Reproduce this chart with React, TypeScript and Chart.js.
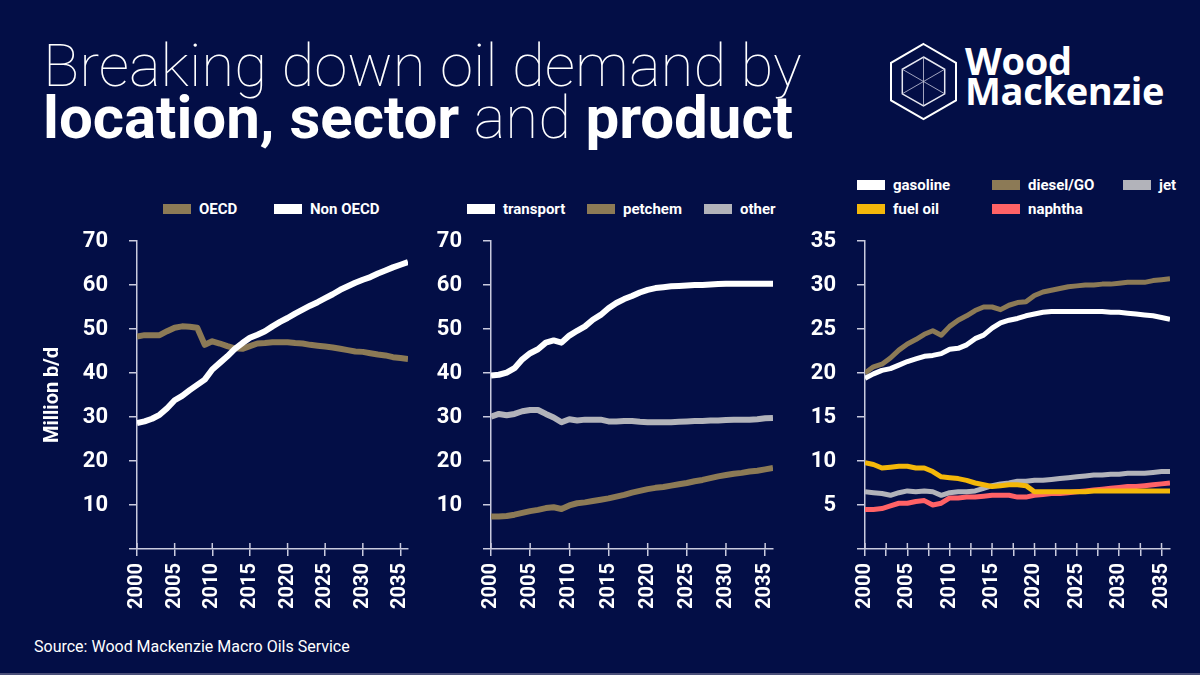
import React, { useEffect, useRef } from 'react';
import { Chart, registerables } from 'chart.js';

Chart.register(...registerables);

// ---------- DATA ----------
const years = [
  2000, 2001, 2002, 2003, 2004, 2005, 2006, 2007, 2008, 2009,
  2010, 2011, 2012, 2013, 2014, 2015, 2016, 2017, 2018, 2019,
  2020, 2021, 2022, 2023, 2024, 2025, 2026, 2027, 2028, 2029,
  2030, 2031, 2032, 2033, 2034, 2035, 2036,
];

// Location
const regionLabels = ['OECD', 'Non OECD'];
const oecd = [
  48.3, 48.6, 48.6, 48.6, 49.5, 50.3, 50.6, 50.5, 50.3, 46.4,
  47.2, 46.7, 46.1, 45.6, 45.5, 46.1, 46.7, 46.8, 47.0, 47.0,
  47.0, 46.8, 46.7, 46.4, 46.2, 46.0, 45.8, 45.5, 45.2, 44.9,
  44.8, 44.5, 44.2, 44.0, 43.6, 43.4, 43.2,
];
const nonOecd = [
  28.6, 29.0, 29.6, 30.5, 32.0, 33.8, 34.8, 36.1, 37.3, 38.5,
  40.8, 42.3, 43.8, 45.5, 46.8, 48.0, 48.7, 49.5, 50.6, 51.6,
  52.5, 53.5, 54.4, 55.3, 56.1, 57.0, 57.9, 58.9, 59.7, 60.5,
  61.2, 61.8, 62.6, 63.3, 64.0, 64.6, 65.2,
];

// Sector
const sectorLabels = ['transport', 'petchem', 'other'];
const transport = [
  39.4, 39.6, 40.1, 41.1, 43.1, 44.5, 45.4, 46.9, 47.4, 46.9,
  48.5, 49.6, 50.6, 52.1, 53.2, 54.7, 55.9, 56.8, 57.5, 58.3,
  58.9, 59.3, 59.5, 59.7, 59.8, 59.9, 60.0, 60.0, 60.1, 60.2,
  60.3, 60.3, 60.3, 60.3, 60.3, 60.3, 60.3,
];
const petchem = [
  7.4, 7.4, 7.5, 7.8, 8.2, 8.6, 8.9, 9.3, 9.5, 9.1,
  9.9, 10.4, 10.6, 10.9, 11.2, 11.5, 11.9, 12.3, 12.8, 13.2,
  13.6, 13.9, 14.1, 14.4, 14.7, 15.0, 15.4, 15.7, 16.1, 16.5,
  16.8, 17.1, 17.3, 17.6, 17.8, 18.1, 18.4,
];
const other = [
  30.1, 30.7, 30.4, 30.7, 31.3, 31.6, 31.6, 30.7, 29.9, 28.8,
  29.5, 29.2, 29.4, 29.4, 29.4, 29.0, 29.0, 29.1, 29.1, 28.9,
  28.8, 28.8, 28.8, 28.8, 28.9, 29.0, 29.1, 29.1, 29.2, 29.2,
  29.3, 29.4, 29.4, 29.4, 29.5, 29.7, 29.8,
];

// Product
const productLabels = ['gasoline', 'diesel/GO', 'jet', 'fuel oil', 'naphtha'];
const gasoline = [
  19.4, 19.9, 20.3, 20.5, 20.9, 21.3, 21.6, 21.9, 22.0, 22.2,
  22.7, 22.8, 23.2, 23.9, 24.3, 25.1, 25.7, 26.0, 26.2, 26.5,
  26.7, 26.9, 27.0, 27.0, 27.0, 27.0, 27.0, 27.0, 27.0, 26.9,
  26.9, 26.8, 26.7, 26.6, 26.5, 26.3, 26.1,
];
const diesel = [
  20.0, 20.7, 21.0, 21.7, 22.6, 23.3, 23.8, 24.4, 24.8, 24.3,
  25.3, 26.0, 26.5, 27.1, 27.5, 27.5, 27.2, 27.7, 28.0, 28.1,
  28.8, 29.2, 29.4, 29.6, 29.8, 29.9, 30.0, 30.0, 30.1, 30.1,
  30.2, 30.3, 30.3, 30.3, 30.5, 30.6, 30.7,
];
const jet = [
  6.5, 6.4, 6.3, 6.1, 6.4, 6.6, 6.5, 6.6, 6.5, 6.1,
  6.4, 6.5, 6.5, 6.6, 6.9, 7.2, 7.4, 7.5, 7.7, 7.7,
  7.8, 7.8, 7.9, 8.0, 8.1, 8.2, 8.3, 8.4, 8.4, 8.5,
  8.5, 8.6, 8.6, 8.6, 8.7, 8.8, 8.8,
];
const fuelOil = [
  9.8, 9.6, 9.2, 9.3, 9.4, 9.4, 9.2, 9.2, 8.8, 8.2,
  8.1, 8.0, 7.8, 7.5, 7.3, 7.1, 7.2, 7.3, 7.3, 7.2,
  6.5, 6.5, 6.5, 6.5, 6.5, 6.5, 6.5, 6.6, 6.6, 6.6,
  6.6, 6.6, 6.6, 6.6, 6.6, 6.6, 6.6,
];
const naphtha = [
  4.5, 4.5, 4.6, 4.9, 5.2, 5.2, 5.4, 5.5, 5.0, 5.2,
  5.8, 5.8, 5.9, 5.9, 6.0, 6.1, 6.1, 6.1, 5.9, 5.9,
  6.1, 6.2, 6.3, 6.3, 6.4, 6.5, 6.6, 6.7, 6.8, 6.9,
  7.0, 7.1, 7.1, 7.2, 7.3, 7.4, 7.5,
];

const yTicks70 = [0, 10, 20, 30, 40, 50, 60, 70];
const yTicks35 = [0, 5, 10, 15, 20, 25, 30, 35];
const xTicks5 = [2000, 2005, 2010, 2015, 2020, 2025, 2030, 2035];
const xTicks25 = [
  2000, 2002.5, 2005, 2007.5, 2010, 2012.5, 2015, 2017.5,
  2020, 2022.5, 2025, 2027.5, 2030, 2032.5, 2035,
];

// ---------- STYLE ----------
const BG = '#030e46';
const AXIS = '#c9cade';
const WHITE = '#ffffff';
const GOLD = '#8c7a56';
const GREY = '#b2b3ba';
const YELLOW = '#f4b70a';
const RED = '#ff6266';
const FONT = 'Roboto, "Noto Sans", sans-serif';

Chart.defaults.font.family = FONT;

const crossTicks = {
  id: 'crossTicks',
  afterDraw(chart: any) {
    const s = chart.scales.x;
    const ctx = chart.ctx;
    ctx.save();
    ctx.strokeStyle = AXIS;
    ctx.lineWidth = 1.5;
    s.ticks.forEach((t: any) => {
      const x = s.getPixelForValue(t.value);
      ctx.beginPath();
      ctx.moveTo(x, s.top - 6);
      ctx.lineTo(x, s.top);
      ctx.stroke();
    });
    ctx.restore();
  },
};

type Series = { label: string; values: number[]; color: string; order: number };

function LineChart(props: {
  left: number;
  width: number;
  axisX: number;
  rightPad: number;
  series: Series[];
  yMax: number;
  yTicks: number[];
  xTicks: number[];
  lineWidth: number;
  yTitle?: string;
}) {
  const ref = useRef<HTMLCanvasElement | null>(null);
  useEffect(() => {
    const canvas = ref.current!;
    const top = 225;
    const height = 400;
    const chart = new Chart(canvas, {
      type: 'line',
      data: {
        datasets: props.series.map((s) => ({
          label: s.label,
          data: years.map((yr, i) => ({ x: yr, y: s.values[i] })),
          borderColor: s.color,
          backgroundColor: s.color,
          borderWidth: props.lineWidth,
          pointRadius: 0,
          tension: 0,
          borderCapStyle: 'butt',
          borderJoinStyle: 'round',
          order: s.order,
        })),
      },
      options: {
        animation: false,
        responsive: false,
        layout: { padding: { top: 241 - top, right: props.rightPad, left: 0, bottom: 0 } },
        plugins: { legend: { display: false }, tooltip: { enabled: false } },
        scales: {
          x: {
            type: 'linear',
            min: 2000,
            max: 2036,
            afterBuildTicks: (s: any) => {
              s.ticks = props.xTicks.map((v) => ({ value: v }));
            },
            afterFit: (s: any) => {
              s.height = top + height - 549;
              s.paddingLeft = 0;
              s.paddingRight = 0;
            },
            grid: { display: true, drawOnChartArea: false, drawTicks: true, tickLength: 7, color: AXIS, lineWidth: 1.5 },
            border: { display: true, color: AXIS, width: 1.5 },
            ticks: {
              autoSkip: false,
              minRotation: 90,
              maxRotation: 90,
              padding: 7,
              color: WHITE,
              font: { size: 20, weight: 'bold' },
              callback: (v: any) => (Number(v) % 5 === 0 ? String(v) : ''),
            },
          },
          y: {
            min: 0,
            max: props.yMax,
            afterBuildTicks: (s: any) => {
              s.ticks = props.yTicks.map((v) => ({ value: v }));
            },
            afterFit: (s: any) => {
              s.width = props.axisX - props.left;
              s.paddingTop = 0;
              s.paddingBottom = 0;
            },
            grid: { display: true, drawOnChartArea: false, drawTicks: true, tickLength: 8, color: AXIS, lineWidth: 1.5 },
            border: { display: true, color: AXIS, width: 1.5 },
            ticks: {
              padding: 21,
              color: WHITE,
              font: { size: 22, weight: 'bold' },
              callback: (v: any) => (Number(v) === 0 ? '' : String(v)),
            },
            title: props.yTitle
              ? {
                  display: true,
                  text: props.yTitle,
                  color: WHITE,
                  font: { size: 20, weight: 'bold' },
                  padding: { top: 11, bottom: 0 },
                }
              : { display: false },
          },
        },
      } as any,
      plugins: [crossTicks],
    });
    return () => chart.destroy();
  }, []);
  return (
    <canvas
      ref={ref}
      width={props.width}
      height={400}
      style={{ position: 'absolute', left: props.left, top: 225, width: props.width, height: 400 }}
    />
  );
}

function LegendItem(props: { x: number; y: number; label: string; color: string }) {
  return (
    <div
      style={{
        position: 'absolute',
        left: props.x,
        top: props.y - 10,
        height: 20,
        display: 'flex',
        alignItems: 'center',
        whiteSpace: 'nowrap',
        color: WHITE,
        fontFamily: FONT,
        fontWeight: 700,
        fontSize: 15,
      }}
    >
      <span style={{ display: 'inline-block', width: 28, height: 10, background: props.color, marginRight: 8 }} />
      {props.label}
    </div>
  );
}

function Logo() {
  const cx = 923.5;
  const cy = 81.5;
  const hex = (r: number) =>
    [-90, -30, 30, 90, 150, 210]
      .map((a) => `${(cx + r * Math.cos((a * Math.PI) / 180)).toFixed(1)},${(cy + r * Math.sin((a * Math.PI) / 180)).toFixed(1)}`)
      .join(' ');
  const ri = 24.5;
  const spokes = [-90, -30, 30, 90, 150, 210].map((a) => ({
    x: cx + ri * Math.cos((a * Math.PI) / 180),
    y: cy + ri * Math.sin((a * Math.PI) / 180),
  }));
  return (
    <>
      <svg width={1200} height={160} style={{ position: 'absolute', left: 0, top: 0 }}>
        <polygon points={hex(37.5)} fill="none" stroke="#ffffff" strokeWidth={2} />
        <polygon points={hex(ri)} fill="none" stroke="#e6e7f0" strokeWidth={1.5} />
        {spokes.map((p, i) => (
          <line key={i} x1={cx} y1={cy} x2={p.x} y2={p.y} stroke="#c9cade" strokeWidth={1} opacity={0.8} />
        ))}
      </svg>
      <div
        style={{
          position: 'absolute',
          left: 965,
          top: 45,
          color: WHITE,
          fontFamily: '"Open Sans", Roboto, sans-serif',
          fontWeight: 700,
          fontSize: 38,
          lineHeight: '30px',
          letterSpacing: -0.3,
          whiteSpace: 'nowrap',
        }}
      >
        <div style={{ height: 30 }}>Wood</div>
        <div style={{ height: 30 }}>Mackenzie</div>
      </div>
    </>
  );
}

export default function App() {
  return (
    <div
      style={{
        position: 'fixed',
        left: 0,
        top: 0,
        width: 1200,
        height: 675,
        background: BG,
        overflow: 'hidden',
        fontFamily: FONT,
      }}
    >
      <div
        style={{
          position: 'absolute',
          left: 43,
          top: 36,
          fontSize: 60,
          lineHeight: '60px',
          fontWeight: 100,
          color: WHITE,
          whiteSpace: 'nowrap',
        }}
      >
        Breaking down oil demand by
      </div>
      <div
        style={{
          position: 'absolute',
          left: 43,
          top: 88,
          fontSize: 60,
          lineHeight: '60px',
          fontWeight: 100,
          color: WHITE,
          whiteSpace: 'nowrap',
        }}
      >
        <span style={{ fontWeight: 700 }}>location, sector</span> and{' '}
        <span style={{ fontWeight: 700 }}>product</span>
      </div>

      <Logo />

      <LegendItem x={163} y={209} label={regionLabels[0]} color={GOLD} />
      <LegendItem x={274} y={209} label={regionLabels[1]} color={WHITE} />

      <LegendItem x={467} y={209} label={sectorLabels[0]} color={WHITE} />
      <LegendItem x={587} y={209} label={sectorLabels[1]} color={GOLD} />
      <LegendItem x={704} y={209} label={sectorLabels[2]} color={GREY} />

      <LegendItem x={857} y={185} label={productLabels[0]} color={WHITE} />
      <LegendItem x={992} y={185} label={productLabels[1]} color={GOLD} />
      <LegendItem x={1123} y={185} label={productLabels[2]} color={GREY} />
      <LegendItem x={857} y={209} label={productLabels[3]} color={YELLOW} />
      <LegendItem x={992} y={209} label={productLabels[4]} color={RED} />

      <LineChart
        left={30}
        width={400}
        axisX={137}
        rightPad={22}
        yMax={70}
        yTicks={yTicks70}
        xTicks={xTicks5}
        lineWidth={6}
        yTitle="Million b/d"
        series={[
          { label: regionLabels[0], values: oecd, color: GOLD, order: 1 },
          { label: regionLabels[1], values: nonOecd, color: WHITE, order: 0 },
        ]}
      />
      <LineChart
        left={430}
        width={370}
        axisX={491}
        rightPad={27}
        yMax={70}
        yTicks={yTicks70}
        xTicks={xTicks5}
        lineWidth={6}
        series={[
          { label: sectorLabels[0], values: transport, color: WHITE, order: 0 },
          { label: sectorLabels[1], values: petchem, color: GOLD, order: 1 },
          { label: sectorLabels[2], values: other, color: GREY, order: 2 },
        ]}
      />
      <LineChart
        left={800}
        width={395}
        axisX={865}
        rightPad={25}
        yMax={35}
        yTicks={yTicks35}
        xTicks={xTicks25}
        lineWidth={5}
        series={[
          { label: productLabels[0], values: gasoline, color: WHITE, order: 0 },
          { label: productLabels[1], values: diesel, color: GOLD, order: 1 },
          { label: productLabels[2], values: jet, color: GREY, order: 3 },
          { label: productLabels[3], values: fuelOil, color: YELLOW, order: 2 },
          { label: productLabels[4], values: naphtha, color: RED, order: 4 },
        ]}
      />

      <div
        style={{
          position: 'absolute',
          left: 34,
          top: 637,
          fontSize: 16,
          lineHeight: '20px',
          color: WHITE,
          whiteSpace: 'nowrap',
        }}
      >
        Source: Wood Mackenzie Macro Oils Service
      </div>
      <div style={{ position: 'absolute', left: 0, top: 673, width: 1200, height: 2, background: '#4a4f78' }} />
    </div>
  );
}
